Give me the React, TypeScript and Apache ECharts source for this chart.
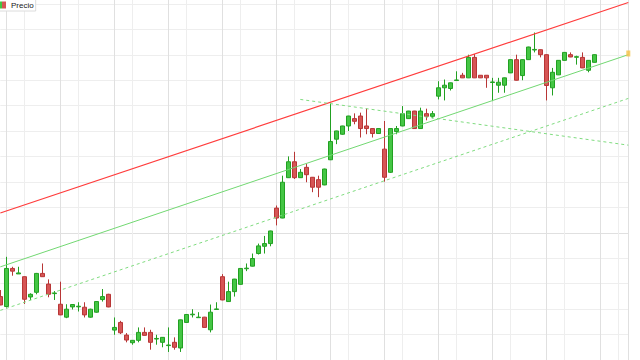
import React, { useEffect, useRef } from 'react';
import * as echarts from 'echarts';

const seriesName = 'Precio';

// OHLC values (one candle per session, left to right)
const opens = [
  10.17, 9.17, 13.0, 12.45, 12.17, 10.13, 10.6, 12.5, 11.43, 10.47,
  9.4, 8.1, 9.13, 9.14, 9.1, 8.1, 8.6, 9.87, 10.4, 6.8,
  7.57, 6.3, 5.53, 5.77, 6.57, 6.57, 5.9, 5.57, 5.24, 5.57,
  5.0, 7.57, 8.34, 8.05, 8.1, 6.83, 8.87, 12.17, 9.67, 10.67,
  11.4, 12.97, 13.23, 14.5, 15.23, 15.5, 19.07, 18.07, 22.13, 23.73,
  22.13, 23.17, 22.17, 21.93, 21.4, 23.93, 26.0, 26.5, 27.33, 28.07,
  28.33, 27.33, 27.07, 26.57, 25.0, 22.67, 26.77, 27.33, 28.07, 28.83,
  27.07, 28.57, 28.3, 30.33, 31.17, 31.1, 31.9, 32.43, 32.17, 34.23,
  32.43, 32.43, 31.7, 31.43, 31.43, 32.67, 34.0, 32.4, 34.0, 34.97,
  35.0, 34.5, 31.17, 32.47, 33.93, 34.5, 34.24, 34.23, 32.93, 33.73,
];
const closes = [
  9.33, 13.0, 12.73, 12.55, 9.9, 10.4, 12.5, 12.17, 10.4, 10.53,
  8.33, 8.9, 9.37, 9.2, 8.33, 8.9, 9.67, 10.17, 9.13, 7.07,
  6.53, 5.8, 5.77, 6.57, 6.27, 5.57, 5.96, 6.07, 5.3, 5.07,
  7.83, 8.37, 8.4, 8.1, 7.07, 8.6, 8.93, 9.83, 10.67, 11.93,
  13.0, 13.03, 14.0, 15.27, 15.5, 16.77, 18.07, 21.67, 23.73, 22.13,
  22.67, 22.43, 21.17, 21.17, 23.0, 25.77, 26.83, 27.33, 28.33, 27.8,
  27.07, 27.07, 26.57, 27.07, 22.17, 27.07, 27.07, 28.57, 28.83, 27.07,
  28.83, 28.3, 28.57, 31.17, 31.43, 31.67, 31.96, 32.17, 34.23, 32.17,
  32.17, 32.17, 31.76, 31.73, 32.17, 34.0, 31.93, 34.0, 35.27, 35.03,
  34.5, 31.4, 32.73, 33.93, 34.73, 34.27, 34.3, 33.17, 33.93, 34.5,
];
const lows = [
  9.3, 9.07, 12.27, 12.45, 9.43, 9.83, 10.4, 12.15, 10.1, 9.83,
  8.3, 8.0, 8.87, 8.67, 8.07, 8.05, 8.55, 9.67, 9.1, 6.33,
  6.4, 5.57, 5.33, 5.57, 6.25, 4.83, 5.33, 5.07, 4.6, 4.83,
  4.6, 7.55, 8.07, 8.05, 7.05, 6.57, 8.87, 9.8, 9.65, 10.17,
  11.37, 12.73, 13.2, 14.4, 14.5, 15.23, 17.33, 18.05, 22.1, 22.0,
  22.1, 21.67, 20.67, 20.17, 21.37, 23.9, 25.5, 26.45, 26.83, 27.5,
  26.17, 26.5, 26.17, 26.55, 21.73, 22.6, 26.5, 27.3, 28.05, 27.05,
  27.05, 27.9, 28.1, 30.0, 29.9, 30.9, 31.9, 32.15, 32.15, 32.15,
  32.15, 31.17, 29.83, 30.67, 30.67, 32.65, 31.9, 31.93, 33.97, 34.73,
  34.23, 29.9, 30.4, 32.45, 33.9, 34.25, 33.5, 33.15, 32.73, 33.7,
];
const highs = [
  10.83, 14.17, 13.17, 13.17, 12.2, 10.5, 12.55, 13.5, 11.9, 10.73,
  11.67, 9.4, 9.4, 9.6, 9.6, 8.95, 9.7, 10.93, 10.45, 8.07,
  7.73, 6.5, 5.8, 7.07, 7.07, 6.83, 6.33, 6.1, 7.07, 6.07,
  7.85, 8.4, 8.9, 8.6, 8.13, 9.37, 9.6, 12.43, 11.67, 11.95,
  13.03, 13.5, 14.5, 15.5, 16.27, 16.8, 19.33, 22.33, 24.27, 24.73,
  23.0, 23.5, 22.2, 22.33, 23.03, 29.6, 26.85, 27.35, 28.35, 28.6,
  28.67, 29.07, 27.1, 27.1, 27.83, 27.1, 27.33, 29.33, 28.85, 28.85,
  29.17, 29.07, 28.83, 31.83, 32.0, 31.7, 32.83, 32.67, 34.5, 34.57,
  32.45, 32.45, 32.17, 32.17, 32.2, 34.03, 34.5, 34.03, 35.3, 36.73,
  35.03, 34.53, 33.17, 33.95, 34.75, 34.73, 34.4, 34.73, 33.95, 34.53,
];

// Trend lines: [session index, price]
const resistanceLine = [[0, 18.58], [104.667, 39.75]];
const supportLine = [[0, 13.16], [104.667, 34.5]];
const lowerChannel = [[0, 8.78], [104.667, 30.1]];
const descendingLine = [[50, 30.0], [104.667, 25.4]];
const lastMarker = [[104.667, 34.62]];

// Axis extents
const X_MIN = 0;
const X_MAX = 104.667;
const Y_MIN = 3.792;
const Y_MAX = 40;
const Y_STEP = 2.558;

const UP = '#44c644';
const UP_BORDER = '#22a022';
const DOWN = '#d65555';
const DOWN_BORDER = '#b83636';
const NONE = 'rgba(0,0,0,0)';

export default function App() {
  const ref = useRef<HTMLDivElement>(null);
  useEffect(() => {
    const chart = echarts.init(ref.current!, null, { renderer: 'svg' });
    const candles = opens.map((o, i) => [i, o, closes[i], lows[i], highs[i]]);
    const vColors = [NONE, '#e0e0e0', NONE, NONE, '#eeeeee', NONE, NONE, NONE, NONE];
    const hColors = Array.from({ length: 16 }, (_, i) =>
      i === 5 ? '#e0e0e0' : i === 15 ? NONE : '#eeeeee'
    );
    chart.setOption({
      animation: false,
      backgroundColor: '#ffffff',
      legend: {
        left: -4,
        top: -1,
        padding: [2, 2, 2, 3],
        itemWidth: 7,
        itemHeight: 7,
        backgroundColor: '#ffffff',
        borderColor: '#dcdcdc',
        borderWidth: 1,
        textStyle: { fontSize: 8, color: '#222', fontFamily: 'Liberation Sans, Arial, sans-serif' },
        data: [
          {
            name: seriesName,
            icon: 'rect',
            itemStyle: {
              borderWidth: 0,
              color: new echarts.graphic.LinearGradient(0, 0, 1, 0, [
                { offset: 0, color: UP },
                { offset: 0.5, color: UP },
                { offset: 0.5, color: DOWN },
                { offset: 1, color: DOWN },
              ]),
            },
          },
        ],
      },
      grid: { left: 0.3, right: 11.7, top: 0, bottom: -2.08 },
      xAxis: {
        type: 'value',
        min: X_MIN,
        max: X_MAX,
        interval: 1,
        axisLine: { show: false },
        axisTick: { show: false },
        axisLabel: { show: false },
        splitLine: { show: true, lineStyle: { color: vColors, width: 1 } },
      },
      yAxis: {
        type: 'value',
        position: 'right',
        min: Y_MIN,
        max: Y_MAX,
        interval: Y_STEP,
        axisLine: { show: true, onZero: false, lineStyle: { color: '#e0e0e0' } },
        axisTick: { show: false },
        axisLabel: { show: false },
        splitLine: { show: true, lineStyle: { color: hColors, width: 1 } },
      },
      series: [
        {
          name: seriesName,
          type: 'candlestick',
          data: candles,
          barWidth: 4,
          itemStyle: {
            color: UP,
            color0: DOWN,
            borderColor: UP_BORDER,
            borderColor0: DOWN_BORDER,
            borderWidth: 1,
          },
        },
        {
          type: 'line',
          data: resistanceLine,
          symbol: 'none',
          silent: true,
          lineStyle: { color: '#ff3c3c', width: 1.2 },
          z: 3,
        },
        {
          type: 'line',
          data: supportLine,
          symbol: 'none',
          silent: true,
          lineStyle: { color: '#72d872', width: 1 },
          z: 3,
        },
        {
          type: 'line',
          data: lowerChannel,
          symbol: 'none',
          silent: true,
          lineStyle: { color: '#80dc80', width: 1, type: [3, 3] },
          z: 3,
        },
        {
          type: 'line',
          data: descendingLine,
          symbol: 'none',
          silent: true,
          lineStyle: { color: '#80dc80', width: 1, type: [3, 3] },
          z: 3,
        },
        {
          type: 'scatter',
          data: lastMarker,
          symbol: 'rect',
          symbolSize: [4, 6],
          clip: false,
          silent: true,
          itemStyle: { color: '#f5c242' },
          z: 4,
        },
      ],
    });
    return () => chart.dispose();
  }, []);
  return (
    <div
      ref={ref}
      style={{ position: 'absolute', left: 0, top: 0, width: 640, height: 360 }}
    />
  );
}
